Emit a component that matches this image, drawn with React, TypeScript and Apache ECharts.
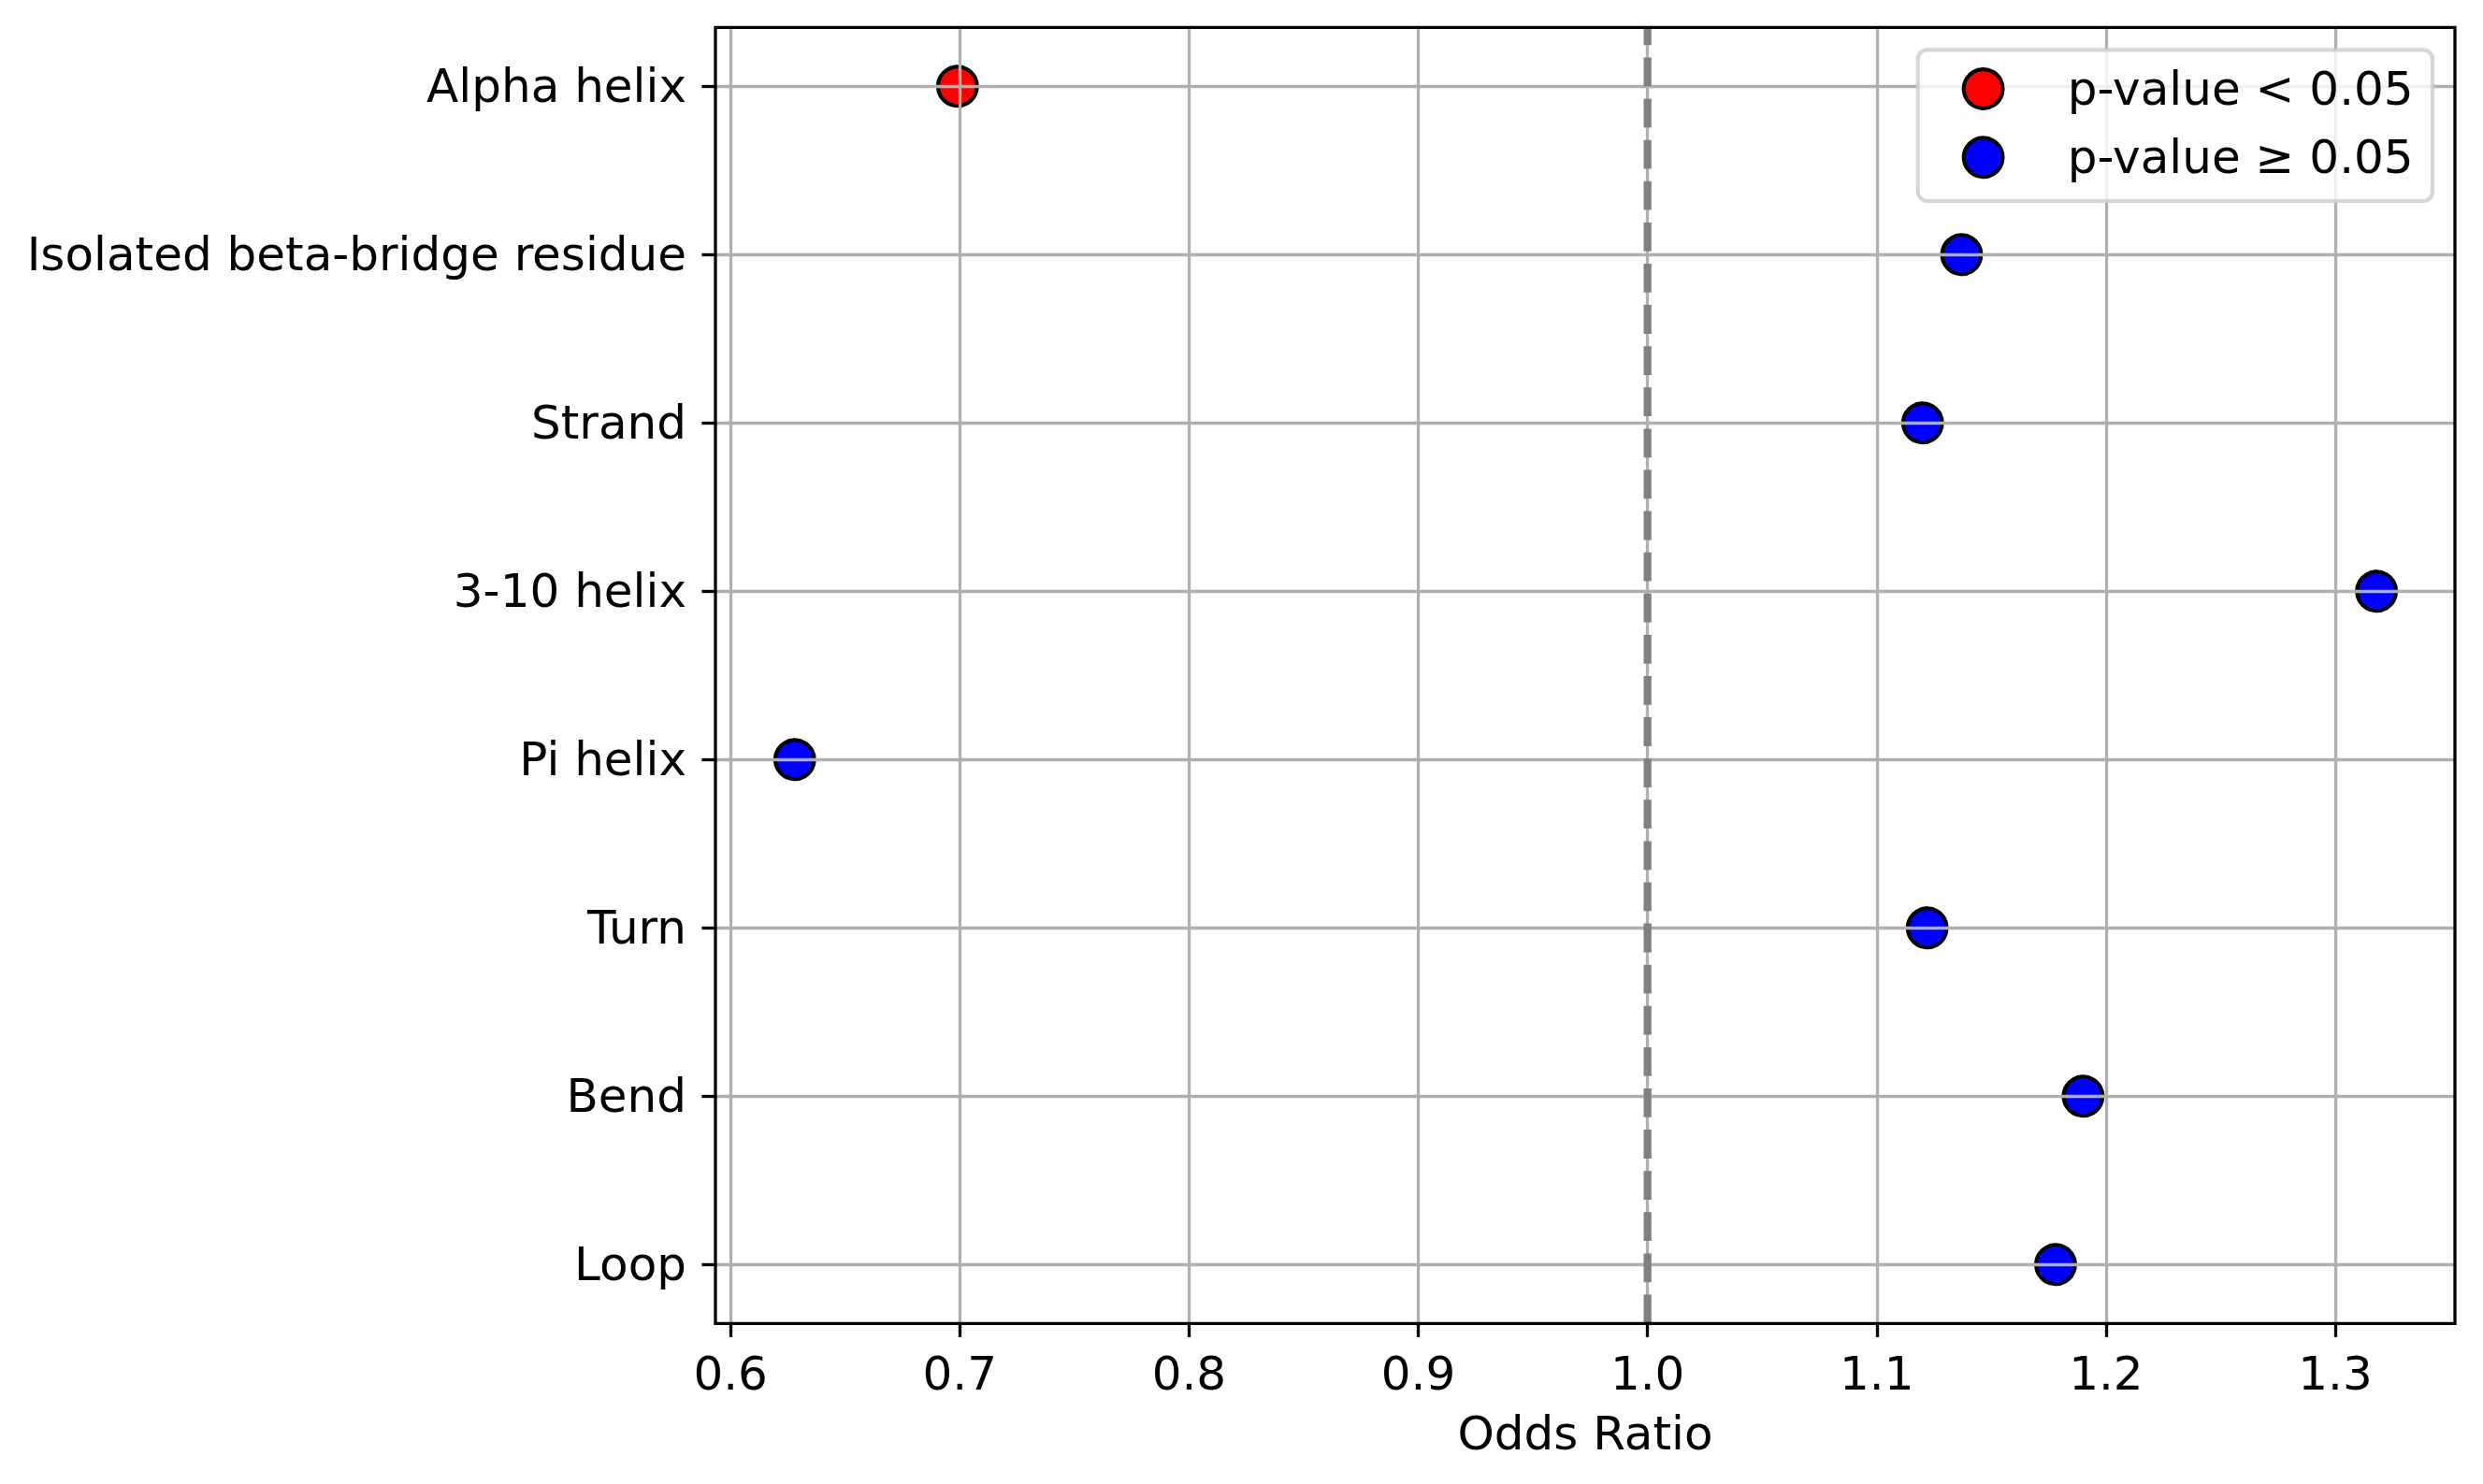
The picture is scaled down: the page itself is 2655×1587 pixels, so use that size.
import React, { useEffect, useRef } from "react";
import * as echarts from "echarts";

// ---- data ----
const CATEGORIES = [
  "Alpha helix",
  "Isolated beta-bridge residue",
  "Strand",
  "3-10 helix",
  "Pi helix",
  "Turn",
  "Bend",
  "Loop",
];
const ODDS_RATIOS = [0.699, 1.137, 1.12, 1.318, 0.628, 1.122, 1.19, 1.178];
const SIGNIFICANT = [true, false, false, false, false, false, false, false];
const SERIES_NAMES = ["p-value < 0.05", "p-value \u2265 0.05"];
const X_TICK_MIN = 0.6;
const X_TICK_MAX = 1.3;
const X_TICK_STEP = 0.1;
const X_MIN = 0.5934;
const X_MAX = 1.3522;
const REF_LINE = 1.0;
const X_LABEL = "Odds Ratio";

// ---- layout ----
const W = 2655;
const H = 1587;
const FL = 765;
const FR = 2625;
const FT = 29.3;
const FB = 1415.3;
const ROW_TOP = 92.3;
const ROW_BOTTOM = 1352.3;
const FONT = "DejaVu Sans";
const FS = 50;
const LW = 3.3;
const TICK_LEN = 14.6;

export default function App() {
  const ref = useRef<HTMLDivElement>(null);
  useEffect(() => {
    if (!ref.current) return;
    const chart = echarts.init(ref.current, undefined, { renderer: "svg" });
    const toPx = (v: number) => FL + ((v - X_MIN) / (X_MAX - X_MIN)) * (FR - FL);
    const gxLeft = toPx(X_TICK_MIN);
    const gxRight = toPx(X_TICK_MAX);

    const sigData: any[] = [];
    const nsData: any[] = [];
    CATEGORIES.forEach((c, i) => {
      (SIGNIFICANT[i] ? sigData : nsData).push([ODDS_RATIOS[i], c]);
    });

    const option: any = {
      animation: false,
      backgroundColor: "#fff",
      textStyle: { fontFamily: FONT },
      grid: [
        {
          left: FL,
          right: W - FR,
          top: FT,
          bottom: H - FB,
          show: true,
          backgroundColor: "transparent",
          borderColor: "#000",
          borderWidth: LW,
          z: 5,
        },
        { left: gxLeft, right: W - gxRight, top: FT, bottom: H - FB },
        { left: FL, right: W - FR, top: ROW_TOP, bottom: H - ROW_BOTTOM },
      ],
      xAxis: [
        {
          gridIndex: 0,
          type: "value",
          min: X_MIN,
          max: X_MAX,
          axisLine: { show: false },
          axisTick: { show: false },
          axisLabel: { show: false },
          splitLine: { show: false },
          name: X_LABEL,
          nameLocation: "middle",
          nameGap: 93,
          nameTextStyle: { fontSize: FS, fontFamily: FONT, color: "#000" },
        },
        {
          gridIndex: 1,
          type: "value",
          min: X_TICK_MIN,
          max: X_TICK_MAX,
          interval: X_TICK_STEP,
          z: 3,
          axisLine: { show: false },
          axisTick: {
            show: true,
            length: TICK_LEN,
            lineStyle: { color: "#000", width: LW },
          },
          axisLabel: {
            show: true,
            margin: 29,
            fontSize: FS,
            fontFamily: FONT,
            color: "#000",
            formatter: (v: number) => v.toFixed(1),
          },
          splitLine: { show: true, lineStyle: { color: "#b0b0b0", width: LW } },
        },
        {
          gridIndex: 2,
          type: "value",
          min: X_MIN,
          max: X_MAX,
          show: false,
        },
      ],
      yAxis: [
        { gridIndex: 0, type: "value", min: 0, max: 1, show: false },
        { gridIndex: 1, type: "value", min: 0, max: 1, show: false },
        {
          gridIndex: 2,
          type: "category",
          data: CATEGORIES,
          inverse: true,
          boundaryGap: false,
          z: 3,
          axisLine: { show: false },
          axisTick: {
            show: true,
            alignWithLabel: true,
            interval: 0,
            length: TICK_LEN,
            lineStyle: { color: "#000", width: LW },
          },
          axisLabel: {
            show: true,
            interval: 0,
            margin: 31,
            fontSize: FS,
            fontFamily: FONT,
            color: "#000",
          },
          splitLine: {
            show: true,
            interval: 0,
            lineStyle: { color: "#b0b0b0", width: LW },
          },
        },
      ],
      legend: {
        data: SERIES_NAMES,
        orient: "vertical",
        left: 2050.7,
        top: 53.3,
        padding: [16.7, 20.3, 21.7, 47],
        itemWidth: 100,
        itemHeight: 41.7,
        itemGap: 23.3,
        icon: "circle",
        selectedMode: false,
        backgroundColor: "rgba(255,255,255,0.8)",
        borderColor: "rgba(204,204,204,0.8)",
        borderWidth: 4.2,
        borderRadius: 10,
        z: 6,
        itemStyle: { borderColor: "#000", borderWidth: 4.2 },
        textStyle: {
          fontSize: FS,
          fontFamily: FONT,
          color: "#000",
          lineHeight: 50,
          padding: [0, 0, 0, 35],
        },
      },
      series: [
        {
          name: SERIES_NAMES[0],
          type: "scatter",
          xAxisIndex: 2,
          yAxisIndex: 2,
          data: sigData,
          symbol: "circle",
          symbolSize: 41.7,
          clip: false,
          z: 2,
          itemStyle: { color: "#ff0000", borderColor: "#000", borderWidth: 4.2, opacity: 1 },
        },
        {
          name: SERIES_NAMES[1],
          type: "scatter",
          xAxisIndex: 2,
          yAxisIndex: 2,
          data: nsData,
          symbol: "circle",
          symbolSize: 41.7,
          clip: false,
          z: 2,
          itemStyle: { color: "#0000ff", borderColor: "#000", borderWidth: 4.2, opacity: 1 },
        },
        {
          type: "line",
          xAxisIndex: 0,
          yAxisIndex: 0,
          data: [
            [REF_LINE, 0],
            [REF_LINE, 1],
          ],
          showSymbol: false,
          symbol: "none",
          silent: true,
          z: 4,
          lineStyle: { color: "#808080", width: 8.3, type: [30.8, 13.3] },
        },
      ],
    };
    chart.setOption(option);
    return () => chart.dispose();
  }, []);
  return (
    <div
      ref={ref}
      style={{ position: "fixed", left: 0, top: 0, width: W, height: H, background: "#fff" }}
    />
  );
}
